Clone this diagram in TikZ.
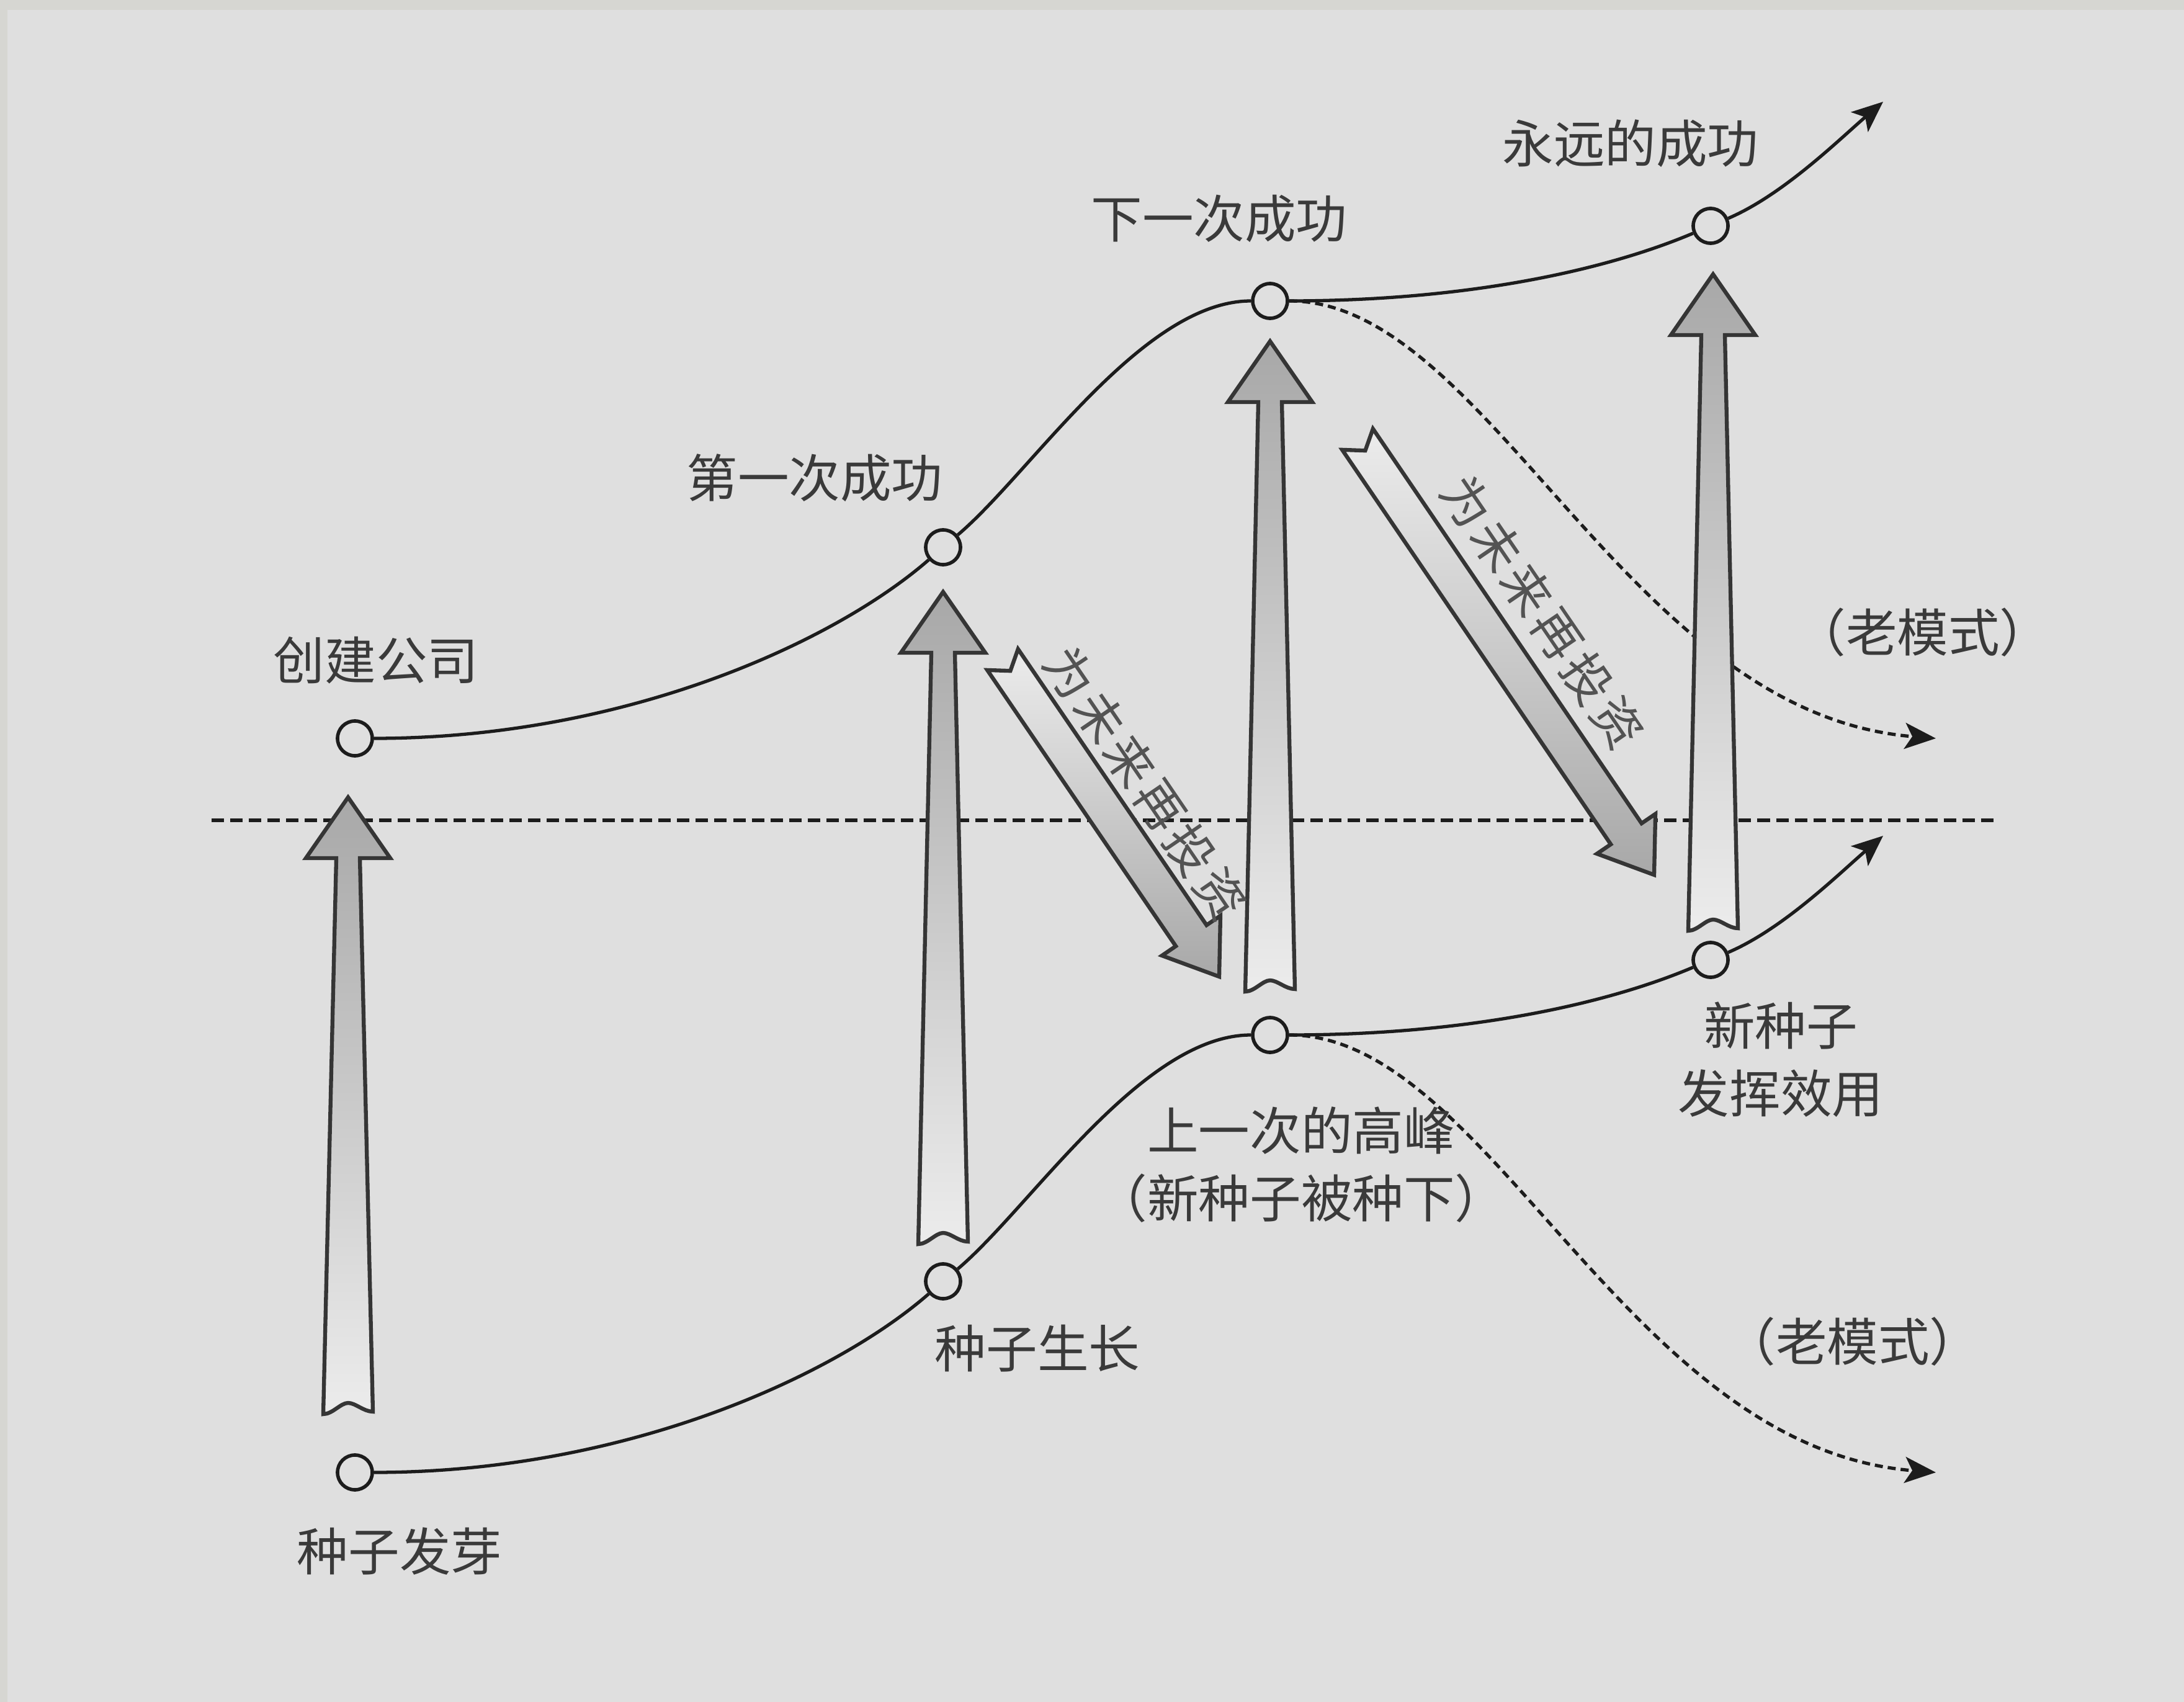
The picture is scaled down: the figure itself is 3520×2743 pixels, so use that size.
\documentclass[tikz,border=0pt]{standalone}
\usepackage{fontspec}
\newfontfamily\cjk{Noto Sans CJK SC}
\newfontfamily\cjkspaced{Noto Sans CJK SC}[LetterSpace=9]
\usetikzlibrary{arrows.meta,calc}
\definecolor{bg}{HTML}{DFDFDF}
\definecolor{band}{HTML}{D6D6D2}
\definecolor{ink}{HTML}{1C1C1C}
\definecolor{txt}{HTML}{3A3A3A}
\definecolor{aline}{HTML}{353535}
\definecolor{ahead}{HTML}{A8A8A8}
\definecolor{alight}{HTML}{ECECEC}
\newcommand\myvarrow[3]{%
  \path[bigarrow,top color=ahead,bottom color=alight]
    ({#1-40},#2) -- ({#1-19},{#3+98}) -- ({#1-68},{#3+98}) -- (#1,#3)
    -- ({#1+68},{#3+98}) -- ({#1+19},{#3+98}) -- ({#1+40},{#2-4})
    .. controls ({#1+25},{#2-4}) and ({#1+12},{#2-18}) .. (#1,{#2-18})
    .. controls ({#1-12},{#2-18}) and ({#1-25},{#2}) .. ({#1-40},#2) -- cycle;
}
\newcommand\mydarrow[2]{%
  \path[bigarrow,top color=alight,bottom color=ahead]
    ($(#1)!0.3cm!90:(#2)$) -- ($($(#2)!0.8cm!(#1)$)!0.3cm!90:(#2)$)
    -- ($($(#2)!0.8cm!(#1)$)!0.57cm!90:(#2)$) -- (#2)
    -- ($($(#2)!0.8cm!(#1)$)!0.57cm!-90:(#2)$)
    -- ($($(#2)!0.8cm!(#1)$)!0.3cm!-90:(#2)$)
    -- ($(#1)!0.3cm!-90:(#2)$) -- ($(#1)!0.22cm!(#2)$) -- cycle;
}
\begin{document}
\begin{tikzpicture}[x=0.01cm,y=-0.01cm,
  dot/.style={circle,draw=ink,line width=1.6pt,fill=bg,minimum size=0.56cm,inner sep=0pt},
  curve/.style={draw=ink,line width=1.5pt},
  tipcurve/.style={curve,-{Stealth[length=0.5cm,width=0.42cm,inset=0.12cm]}},
  dcurve/.style={tipcurve,dash pattern=on 0.13cm off 0.08cm},
  midline/.style={draw=ink,line width=1.5pt,dash pattern=on 0.2cm off 0.1cm},
  lbl/.style={font=\cjk\fontsize{23.5}{31}\selectfont,text=txt,inner sep=0pt,align=center},
  dlbl/.style={font=\cjkspaced\fontsize{22.5}{26}\selectfont,text=txt!85!bg,inner sep=0pt},
  bigarrow/.style={draw=aline,line width=1.8pt,line join=miter},
]
\useasboundingbox (0,0) rectangle (3520,2743);
\fill[bg] (0,0) rectangle (3520,2743);
\fill[band] (0,0) rectangle (3520,16);
\fill[band] (0,0) rectangle (12,2743);

% middle dashed line
\coordinate (ml) at (341,1322);
\coordinate (mr) at (3222,1322);
\draw[midline] (ml) -- (mr);

% nodes (circles)
\node[dot] (t1) at (572,1190) {};
\node[dot] (t2) at (1520,882) {};
\node[dot] (t3) at (2047,485) {};
\node[dot] (t4) at (2757,364) {};
\coordinate (te) at (3035,164);
\coordinate (td) at (3120,1190);

\node[dot] (b1) at (572,2373) {};
\node[dot] (b2) at (1520,2065) {};
\node[dot] (b3) at (2047,1668) {};
\node[dot] (b4) at (2757,1547) {};
\coordinate (be) at (3035,1347);
\coordinate (bd) at (3120,2373);

% top curve
\draw[curve] (t1) .. controls (1010,1190) and (1347,1033) .. (t2);
\draw[curve] (t2) .. controls (1661,763) and (1841,485) .. (t3);
\draw[curve] (t3) .. controls (2357,485) and (2582,438) .. (t4);
\draw[tipcurve] (t4) .. controls (2874,314) and (2964,225) .. (te);
\draw[dcurve] (t3) .. controls (2400,485) and (2620,1150) .. (td);

% bottom curve
\draw[curve] (b1) .. controls (1010,2373) and (1347,2216) .. (b2);
\draw[curve] (b2) .. controls (1661,1946) and (1841,1668) .. (b3);
\draw[curve] (b3) .. controls (2357,1668) and (2582,1621) .. (b4);
\draw[tipcurve] (b4) .. controls (2874,1497) and (2964,1408) .. (be);
\draw[dcurve] (b3) .. controls (2400,1668) and (2620,2333) .. (bd);

% vertical arrows
\myvarrow{561}{2279}{1285}
\myvarrow{1520}{2005}{954}
\myvarrow{2047}{1598}{550}
\myvarrow{2761}{1500}{442}

% diagonal arrows
\coordinate (ta) at (1616,1063);
\coordinate (pa) at (1965,1574);
\coordinate (tb) at (2188,708);
\coordinate (pb) at (2666,1410);
\mydarrow{ta}{pa}
\mydarrow{tb}{pb}
\node[dlbl,rotate=-55.7] (la) at (1846,1262) {为未来再投资};
\node[dlbl,rotate=-55.7] (lb) at (2486,986) {为未来再投资};

% labels
\node[lbl] (l1) at (606,1064) {创建公司};
\node[lbl] (l2) at (1313,770) {第一次成功};
\node[lbl] (l3) at (1965,352) {下一次成功};
\node[lbl] (l4) at (2628,231) {永远的成功};
\node[lbl] (l5) at (3099,1019) {（老模式）};
\node[lbl] (l6) at (644,2500) {种子发芽};
\node[lbl] (l7) at (1672,2173) {种子生长};
\node[lbl] (l8) at (2097,1877) {上一次的高峰\\（新种子被种下）};
\node[lbl] (l9) at (2870,1708) {新种子\\发挥效用};
\node[lbl] (l10) at (2986,2162) {（老模式）};
\end{tikzpicture}
\end{document}
